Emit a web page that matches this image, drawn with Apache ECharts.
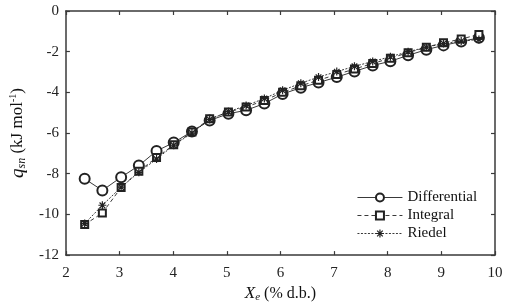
<!DOCTYPE html>
<html>
<head>
<meta charset="utf-8">
<script src="https://cdn.jsdelivr.net/npm/echarts@6/dist/echarts.min.js"></script>
<style>
  html, body { margin: 0; padding: 0; background: #fff; }
  #chart { width: 507px; height: 308px; }
</style>
</head>
<body>
<div id="chart"></div>
<script>
// moisture content Xe (% d.b.)
const xe = [2.35, 2.68, 3.03, 3.36, 3.69, 4.01, 4.35, 4.68, 5.03, 5.36, 5.70, 6.04,
            6.38, 6.71, 7.05, 7.38, 7.72, 8.05, 8.38, 8.72, 9.04, 9.37, 9.70];
// net isosteric heat qsn (kJ/mol)
const differential = [-8.25, -8.82, -8.17, -7.60, -6.88, -6.47, -5.92, -5.38, -5.05, -4.88, -4.55, -4.08,
                      -3.77, -3.52, -3.25, -2.97, -2.68, -2.47, -2.18, -1.90, -1.69, -1.50, -1.32];
const integral = [-10.50, -9.93, -8.68, -7.88, -7.20, -6.58, -5.95, -5.30, -4.97, -4.72, -4.40, -4.00,
                  -3.68, -3.40, -3.12, -2.85, -2.58, -2.32, -2.05, -1.78, -1.56, -1.38, -1.15];
const riedel = [-10.45, -9.55, -8.66, -7.93, -7.28, -6.60, -6.00, -5.33, -4.95, -4.65, -4.30, -3.90,
                -3.55, -3.25, -2.98, -2.72, -2.48, -2.25, -2.00, -1.78, -1.60, -1.48, -1.40];

const pairs = (ys) => ys.map((y, i) => [xe[i], y]);

const myChart = echarts.init(document.getElementById('chart'));
const serif = 'Liberation Serif';
const axisColor = '#3a3a3a';
const ink = '#222';

const boxAxis = (extra) => Object.assign({
    type: 'value',
    axisLine: { show: true, onZero: false, lineStyle: { color: axisColor, width: 1.5 } },
    axisTick: { show: true, inside: true, length: 4, lineStyle: { color: axisColor, width: 1.2 } },
    splitLine: { show: false }
}, extra);

const asterisk = 'path://M5,0L5,10M0,5L10,5M1.5,1.5L8.5,8.5M1.5,8.5L8.5,1.5';

let option = {
    animation: false,
    grid: { left: 57, right: 12, top: 11, bottom: 49 },
    legend: {
        orient: 'vertical',
        left: 357,
        top: 190,
        padding: 0,
        itemWidth: 45,
        itemHeight: 10,
        itemGap: 3,
        lineStyle: { width: 0.9 },
        textStyle: { fontFamily: serif, fontSize: 15, color: '#111' },
        data: [
            { name: 'Differential' },
            { name: 'Integral' },
            { name: 'Riedel', itemStyle: { color: ink, borderColor: ink, borderWidth: 1.2 } }
        ]
    },
    xAxis: [
        boxAxis({
            min: 2, max: 10, interval: 1,
            position: 'bottom',
            axisLabel: { fontFamily: serif, fontSize: 15, color: ink, margin: 10 },
            name: '{i|X}{sub|e}{t| (% d.b.)}',
            nameLocation: 'middle',
            nameGap: 28,
            nameTextStyle: {
                rich: {
                    i: { fontFamily: serif, fontStyle: 'italic', fontSize: 17, color: '#111' },
                    sub: { fontFamily: serif, fontStyle: 'italic', fontSize: 11, color: '#111', verticalAlign: 'bottom', padding: [8, 0, 0, 0] },
                    t: { fontFamily: serif, fontSize: 16, color: '#111' }
                }
            }
        }),
        boxAxis({ min: 2, max: 10, interval: 1, position: 'top', axisLabel: { show: false } })
    ],
    yAxis: [
        boxAxis({
            min: -12, max: 0, interval: 2,
            position: 'left',
            axisLabel: { fontFamily: serif, fontSize: 15, color: ink, margin: 7 },
            name: '{i|q}{sub|sn}{t| (kJ mol}{sup|-1}{t|)}',
            nameLocation: 'middle',
            nameGap: 34,
            nameRotate: 90,
            nameTextStyle: {
                rich: {
                    i: { fontFamily: serif, fontStyle: 'italic', fontSize: 19, color: '#111' },
                    sub: { fontFamily: serif, fontStyle: 'italic', fontSize: 12, color: '#111', verticalAlign: 'bottom', padding: [8, 0, 0, 0] },
                    t: { fontFamily: serif, fontSize: 17, color: '#111' },
                    sup: { fontFamily: serif, fontSize: 10, color: '#111', verticalAlign: 'top', padding: [0, 0, 8, 0] }
                }
            }
        }),
        boxAxis({ min: -12, max: 0, interval: 2, position: 'right', axisLabel: { show: false } })
    ],
    series: [
        {
            name: 'Differential',
            type: 'line',
            data: pairs(differential),
            symbol: 'emptyCircle',
            symbolSize: 10,
            itemStyle: { color: ink, borderWidth: 0.9 },
            lineStyle: { color: ink, width: 0.9, type: 'solid' },
            z: 3
        },
        {
            name: 'Integral',
            type: 'line',
            data: pairs(integral),
            symbol: 'emptyRect',
            symbolSize: 7,
            itemStyle: { color: ink, borderWidth: 0.9 },
            lineStyle: { color: ink, width: 0.9, type: [4, 3] },
            z: 4
        },
        {
            name: 'Riedel',
            type: 'line',
            data: pairs(riedel),
            symbol: asterisk,
            symbolSize: 8,
            itemStyle: { color: ink, borderColor: ink, borderWidth: 1.2 },
            lineStyle: { color: ink, width: 0.9, type: [2, 1.5] },
            z: 5
        }
    ]
};
myChart.setOption(option);
window.addEventListener('resize', () => {
    myChart.resize()
})
</script>
</body>
</html>
